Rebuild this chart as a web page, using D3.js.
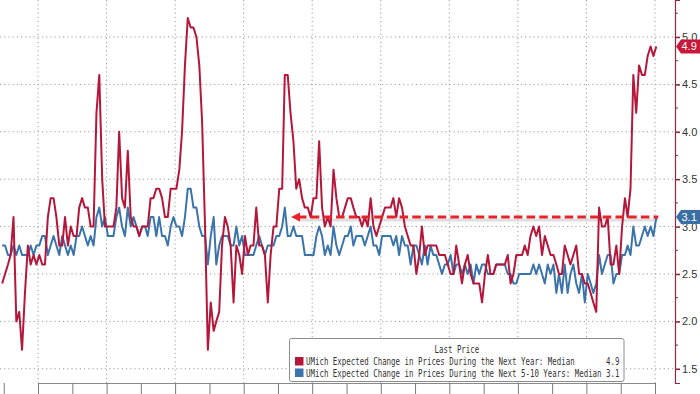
<!DOCTYPE html>
<html>
<head>
<meta charset="utf-8">
<script src="https://cdn.jsdelivr.net/npm/d3@7"></script>
<style>
  body { margin: 0; background: #fff; }
  .umich-viz svg { display: block; }
</style>
</head>
<body>
<div class="umich-viz"></div>
<script>
// monthly readings, Dec 2002 .. Jan 2022
const startMonth = new Date(2002, 11, 15);

const nextYear = [
  2.4, 2.5, 2.6, 2.7, 3.1, 2.0, 2.1, 1.7, 2.3, 2.8,
  2.6, 2.7, 2.6, 2.7, 2.6, 2.6, 3.1, 3.3, 3.3, 3.1,
  2.8, 2.8, 3.1, 2.8, 3.0, 2.9, 2.9, 3.2, 3.3, 3.2,
  3.2, 3.0, 3.0, 4.2, 4.6, 3.5, 3.0, 3.0, 3.0, 3.0,
  3.2, 4.0, 3.3, 3.2, 3.8, 3.1, 3.0, 3.0, 2.9, 3.0,
  3.0, 3.0, 3.3, 3.3, 3.4, 3.4, 3.3, 3.1, 3.1, 3.4,
  3.4, 3.4, 3.6, 4.0, 4.7, 5.2, 5.1, 5.1, 5.0, 4.7,
  4.1, 3.0, 1.7, 2.2, 1.9, 2.0, 2.1, 2.8, 3.1, 3.0,
  2.8, 2.2, 2.8, 2.7, 2.5, 2.9, 2.7, 2.8, 2.8, 3.2,
  2.8, 2.8, 2.7, 2.2, 2.7, 3.0, 3.0, 3.4, 3.4, 4.6,
  4.6, 4.2, 3.9, 3.4, 3.5, 3.3, 3.2, 3.2, 3.1, 3.3,
  3.3, 3.9, 3.2, 3.0, 3.1, 3.0, 3.6, 3.3, 3.1, 3.1,
  3.2, 3.3, 3.3, 3.2, 3.1, 3.1, 3.0, 3.1, 3.0, 3.3,
  3.0, 2.9, 3.0, 3.1, 3.2, 3.2, 3.2, 3.3, 3.1, 3.3,
  3.2, 3.0, 2.9, 2.8, 2.8, 2.5, 2.7, 3.0, 2.7, 2.8,
  2.8, 2.8, 2.8, 2.7, 2.7, 2.7, 2.6, 2.5, 2.5, 2.8,
  2.6, 2.4, 2.6, 2.7, 2.5, 2.4, 2.4, 2.4, 2.2, 2.5,
  2.7, 2.5, 2.5, 2.6, 2.6, 2.6, 2.6, 2.7, 2.4, 2.5,
  2.7, 2.7, 2.7, 2.8, 2.7, 2.9, 3.0, 2.9, 3.0, 2.7,
  2.9, 2.8, 2.7, 2.7, 2.6, 2.5, 2.5, 2.8, 2.7, 2.6,
  2.7, 2.8, 2.5, 2.5, 2.4, 2.4, 2.3, 2.2, 2.1, 3.2,
  3.0, 3.0, 3.1, 2.6, 2.6, 2.8, 2.5, 3.0, 3.3, 3.1,
  3.4, 4.6, 4.2, 4.7, 4.6, 4.6, 4.8, 4.9, 4.8, 4.9
];

const fiveToTen = [
  2.8, 2.8, 2.7, 2.7, 2.8, 2.7, 2.8, 2.7, 2.7, 2.7,
  2.8, 2.7, 2.8, 2.8, 2.9, 2.9, 2.7, 2.8, 2.9, 2.8,
  2.7, 2.9, 2.8, 2.7, 2.8, 2.7, 2.9, 2.9, 3.0, 2.9,
  2.8, 2.9, 2.8, 3.1, 3.2, 3.0, 3.1, 2.9, 2.9, 2.9,
  3.1, 3.2, 3.0, 2.9, 3.2, 3.0, 3.1, 3.0, 2.9, 3.0,
  3.0, 2.9, 3.1, 3.1, 2.9, 3.1, 2.9, 2.9, 2.8, 3.0,
  3.1, 3.0, 3.0, 2.9, 3.1, 3.4, 3.4, 3.2, 3.2, 3.0,
  2.9, 2.9, 2.6, 2.9, 3.1, 2.6, 2.8, 2.9, 2.9, 2.9,
  2.8, 2.8, 3.0, 2.8, 2.9, 2.7, 2.7, 2.7, 2.7, 2.8,
  2.9, 2.8, 2.7, 2.8, 2.8, 2.8, 2.9, 2.9, 3.0, 3.2,
  2.9, 2.9, 3.0, 2.9, 2.9, 2.9, 2.7, 2.7, 2.7, 2.7,
  2.9, 3.0, 2.9, 2.7, 2.8, 2.7, 3.0, 2.8, 2.7, 2.8,
  2.9, 2.9, 3.0, 2.8, 2.9, 2.9, 2.9, 2.8, 2.9, 3.0,
  2.8, 2.8, 2.7, 2.9, 2.9, 2.9, 2.9, 2.8, 2.9, 2.7,
  2.9, 2.8, 2.8, 2.6, 2.8, 2.8, 2.7, 2.6, 2.8, 2.6,
  2.8, 2.7, 2.7, 2.6, 2.5, 2.6, 2.6, 2.7, 2.5, 2.6,
  2.6, 2.5, 2.6, 2.5, 2.6, 2.4, 2.6, 2.5, 2.6, 2.6,
  2.5, 2.5, 2.5, 2.6, 2.6, 2.6, 2.6, 2.5, 2.5, 2.4,
  2.4, 2.5, 2.5, 2.5, 2.5, 2.5, 2.6, 2.5, 2.6, 2.5,
  2.4, 2.6, 2.5, 2.6, 2.3, 2.5, 2.3, 2.6, 2.3, 2.5,
  2.6, 2.4, 2.3, 2.5, 2.2, 2.5, 2.4, 2.3, 2.4, 2.7,
  2.5, 2.6, 2.7, 2.7, 2.4, 2.5, 2.5, 2.7, 2.7, 2.8,
  2.7, 3.0, 2.8, 2.8, 2.9, 3.0, 2.9, 3.0, 2.9, 3.1
];

const yTicks = [1.5, 2.0, 2.5, 3.0, 3.5, 4.0, 4.5, 5.0];
const yMinorTicks = [1.75, 2.25, 2.75, 3.25, 3.75, 4.25, 4.75, 5.25];
const tickYears = d3.range(2003, 2023);
const gridYears = [2004, 2006, 2008, 2010, 2012, 2014, 2016, 2018, 2020, 2022];

const legendTitle = "Last Price";
const seriesNames = [
  "UMich Expected Change in Prices During the Next Year: Median",
  "UMich Expected Change in Prices During the Next 5-10 Years: Median"
];
const colors = ["#b5173b", "#3b74ab"];
const badgeColors = ["#c8183a", "#3a6fa6"];

// dashed reference back from today's long-run reading
const refValue = 3.1;
const refFrom = new Date(2011, 4, 20);
const refTo = new Date(2022, 1, 5);

function drawChart() {
  const margin = {top: 0, right: 25, bottom: 11, left: 0},
      width = 700 - margin.left - margin.right,
      height = 394 - margin.top - margin.bottom;

  const svg = d3.select(".umich-viz")
    .append("svg")
      .attr("width", width + margin.left + margin.right)
      .attr("height", height + margin.top + margin.bottom)
    .append("g")
      .attr("transform", `translate(${margin.left},${margin.top})`);

  const months = nextYear.map((v, i) => d3.timeMonth.offset(startMonth, i));
  const series = [nextYear, fiveToTen].map((vals, s) => ({
    name: seriesNames[s],
    color: colors[s],
    badge: badgeColors[s],
    values: vals.map((v, i) => ({date: months[i], value: v}))
  }));

  // 2004-01-01 sits at 38px, 2022-01-01 at 655px
  const x = d3.scaleTime()
    .domain([new Date(2004, 0, 1), new Date(2022, 0, 1)])
    .range([38, 655]);

  const y = d3.scaleLinear()
    .domain([1.35, 5.39])
    .range([height, 0]);

  svg.append("defs").append("clipPath")
      .attr("id", "plot-clip")
    .append("rect")
      .attr("width", width)
      .attr("height", height);

  // dotted grid
  svg.append("g")
    .selectAll("line")
    .data(yTicks)
    .join("line")
      .attr("x1", 0)
      .attr("x2", width)
      .attr("y1", d => y(d))
      .attr("y2", d => y(d))
      .attr("stroke", "#9c9c9c")
      .attr("stroke-dasharray", "1.2,3")
      .attr("stroke-width", 1);

  svg.append("g")
    .selectAll("line")
    .data(gridYears)
    .join("line")
      .attr("x1", d => x(new Date(d, 0, 1)))
      .attr("x2", d => x(new Date(d, 0, 1)))
      .attr("y1", 0)
      .attr("y2", height)
      .attr("stroke", "#9c9c9c")
      .attr("stroke-dasharray", "1.2,3")
      .attr("stroke-width", 1);

  // bottom axis: just the line and yearly ticks, labels are cropped off
  svg.append("g")
    .attr("transform", `translate(0, ${height})`)
    .call(d3.axisBottom(x)
      .tickValues(tickYears.map(yr => new Date(yr, 0, 1)))
      .tickSize(12))
    .call(g => g.select(".domain").attr("stroke", "#8a8a8a"))
    .call(g => g.selectAll(".tick line").attr("stroke", "#7a7a7a"))
    .call(g => g.selectAll(".tick text").remove());

  // right axis
  const yAxis = svg.append("g")
    .attr("transform", `translate(${width}, 0)`)
    .call(d3.axisRight(y)
      .tickValues(yTicks)
      .tickSize(5)
      .tickPadding(2)
      .tickFormat(d3.format(".1f")))
    .call(g => g.select(".domain").attr("stroke", "#8e2a3c").attr("stroke-width", 1.2))
    .call(g => g.selectAll(".tick line").attr("stroke", "#8e2a3c").attr("stroke-width", 1.6))
    .call(g => g.selectAll(".tick text")
      .attr("fill", "#333")
      .style("font-family", "'Liberation Sans', Arial, sans-serif")
      .style("font-size", "11px"));

  yAxis.append("g")
    .selectAll("line")
    .data(yMinorTicks)
    .join("line")
      .attr("x1", 0)
      .attr("x2", 3)
      .attr("y1", d => y(d))
      .attr("y2", d => y(d))
      .attr("stroke", "#8e2a3c");

  const line = d3.line()
    .x(d => x(d.date))
    .y(d => y(d.value));

  const plot = svg.append("g").attr("clip-path", "url(#plot-clip)");

  // dashed arrow with its soft shadow
  plot.append("line")
    .attr("x1", x(refFrom) + 6)
    .attr("x2", x(refTo))
    .attr("y1", y(refValue) + 3)
    .attr("y2", y(refValue) + 3)
    .attr("stroke", "#c9c9c9")
    .attr("stroke-width", 3)
    .attr("opacity", 0.6);

  plot.selectAll(".series")
    .data(series.slice().reverse())
    .join("path")
      .attr("class", "series")
      .attr("fill", "none")
      .attr("stroke", d => d.color)
      .attr("stroke-width", 2)
      .attr("stroke-linejoin", "round")
      .attr("d", d => line(d.values));

  plot.append("line")
    .attr("x1", x(refFrom) + 7)
    .attr("x2", x(refTo))
    .attr("y1", y(refValue))
    .attr("y2", y(refValue))
    .attr("stroke", "#e8222b")
    .attr("stroke-width", 3)
    .attr("stroke-dasharray", "8.5,4.2");

  const ax = x(refFrom), ay = y(refValue);
  plot.append("path")
    .attr("d", `M${ax},${ay} L${ax + 9},${ay - 4.5} L${ax + 9},${ay + 4.5} Z`)
    .attr("fill", "#e8222b");

  // last value badges
  const badges = svg.append("g").attr("transform", `translate(${width}, 0)`);
  series.forEach(s => {
    const last = s.values[s.values.length - 1];
    const cy = y(last.value);
    badges.append("path")
      .attr("d", `M1,${cy} L6,${cy - 7} L25,${cy - 7} L25,${cy + 7} L6,${cy + 7} Z`)
      .attr("fill", s.badge);
    badges.append("text")
      .attr("x", 6.5)
      .attr("y", cy + 4)
      .attr("fill", "#fff")
      .style("font-family", "'Liberation Sans', Arial, sans-serif")
      .style("font-size", "11px")
      .text(d3.format(".1f")(last.value));
  });

  createLegend();

  function createLegend() {
    const lg = svg.append("g").attr("transform", "translate(289.5, 338.5)");
    const mono = "'DejaVu Sans Mono', 'Liberation Mono', monospace";
    // the terminal font is narrow: squeeze the mono glyphs to ~4.5px a char
    const squeeze = 0.709;

    function monoText(tx, ty, str) {
      return lg.append("text")
        .attr("transform", `translate(${tx},${ty}) scale(${squeeze},1)`)
        .attr("fill", "#333")
        .style("font-family", mono)
        .style("font-size", "10.5px")
        .text(str);
    }

    lg.append("rect")
      .attr("width", 334.5)
      .attr("height", 43)
      .attr("rx", 2)
      .attr("fill", "#fff")
      .attr("stroke", "#8c8c8c")
      .attr("stroke-width", 1);

    monoText(145, 14.5, legendTitle);

    series.forEach((s, i) => {
      const rowY = 18.5 + i * 11.5;
      lg.append("rect")
        .attr("x", 5.5)
        .attr("y", rowY)
        .attr("width", 8.5)
        .attr("height", 8.5)
        .attr("fill", s.color);
      monoText(16.5, rowY + 8, s.name);
      monoText(316.5, rowY + 8, d3.format(".1f")(s.values[s.values.length - 1].value));
    });
  }
}

drawChart();
</script>
</body>
</html>
